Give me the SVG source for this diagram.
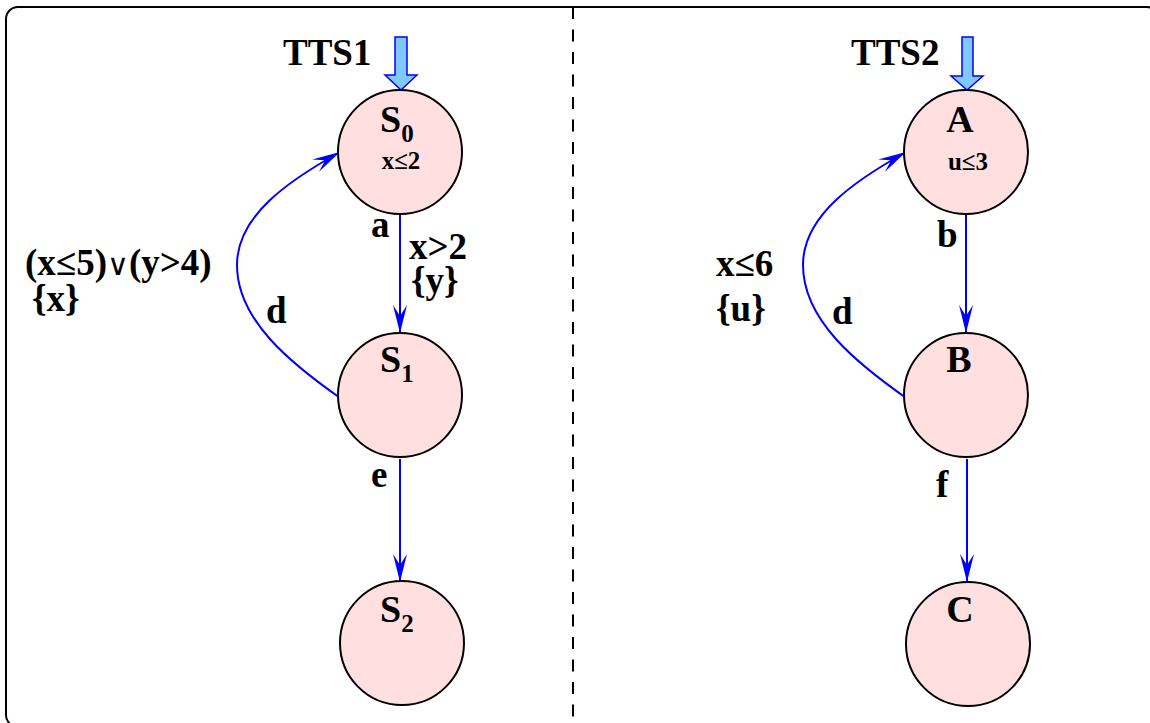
<svg xmlns="http://www.w3.org/2000/svg" width="1150" height="723" viewBox="0 0 1150 723">
  <style>
    .frame { fill: none; stroke: #000; stroke-width: 2; }
    .divider { fill: none; stroke: #000; stroke-width: 2; stroke-dasharray: 12 10.5; }
    .state { fill: #ffdfe0; stroke: #000; stroke-width: 2; }
    .edge { fill: none; stroke: #0000ff; stroke-width: 2; }
    .init { fill: #80c8ff; stroke: #0000ff; stroke-width: 1.5; }
    text { font-family: "Liberation Serif", "Times New Roman", "DejaVu Serif", serif; font-weight: bold; fill: #000; }
    .title { font-size: 37px; }
    .name { font-size: 38px; }
    .sub { font-size: 25px; }
    .inv { font-size: 25px; }
    .lbl { font-size: 37px; }
    .sym { font-family: "DejaVu Sans", sans-serif; font-weight: normal; font-size: 30px; }
  </style>
  <defs>
    <marker id="head" viewBox="-30 -10 32 20" refX="0" refY="0" markerWidth="32" markerHeight="20" markerUnits="userSpaceOnUse" orient="auto">
      <path d="M0,0 L-28,-7 L-17,0 L-28,7 Z" fill="#0000ff"/>
    </marker>
  </defs>

  <!-- outer frame and the dashed split between the two systems -->
  <rect class="frame" x="6" y="7" width="1153" height="720" rx="12"/>
  <line class="divider" x1="573" y1="7" x2="573" y2="723"/>

  <!-- transitions -->
  <g id="connectors">
    <line class="edge" x1="400" y1="209" x2="400" y2="333" marker-end="url(#head)"/>
    <line class="edge" x1="400" y1="459" x2="400" y2="582" marker-end="url(#head)"/>
    <path class="edge" d="M343,400 C290,363 237,320 237,265 C237,215 290,180 340,152" marker-end="url(#head)"/>
    <line class="edge" x1="966" y1="209" x2="966" y2="333" marker-end="url(#head)"/>
    <line class="edge" x1="967" y1="459" x2="967" y2="582" marker-end="url(#head)"/>
    <path class="edge" d="M909,400 C856,363 803,320 803,265 C803,215 856,180 906,152" marker-end="url(#head)"/>
  </g>

  <!-- edge labels -->
  <g id="labels">
    <text class="lbl" x="371" y="237">a</text>
    <text class="lbl" x="409" y="259">x&gt;2</text>
    <text class="lbl" x="411" y="293">{y}</text>
    <text class="lbl" x="25" y="275">(x≤5)<tspan class="sym">∨</tspan>(y&gt;4)</text>
    <text class="lbl" x="32" y="311">{x}</text>
    <text class="lbl" x="266" y="323">d</text>
    <text class="lbl" x="371" y="487">e</text>
    <text class="lbl" x="716" y="276">x≤6</text>
    <text class="lbl" x="716" y="321">{u}</text>
    <text class="lbl" x="832" y="324">d</text>
    <text class="lbl" x="937" y="247">b</text>
    <text class="lbl" x="936" y="497">f</text>
  </g>

  <!-- TTS1 -->
  <g id="tts1">
    <text class="title" x="283" y="65">TTS1</text>
    <polygon class="init" points="395,37 407,37 407,75 417,75 401,90 385,75 395,75"/>
  </g>
  <g id="S0">
    <circle class="state" cx="400" cy="152" r="62"/>
    <text class="name" x="380" y="132">S<tspan class="sub" dy="10">0</tspan></text>
    <text class="inv" x="401" y="169" text-anchor="middle">x≤2</text>
  </g>
  <g id="S1">
    <circle class="state" cx="400" cy="395" r="62"/>
    <text class="name" x="380" y="372">S<tspan class="sub" dy="10">1</tspan></text>
  </g>
  <g id="S2">
    <circle class="state" cx="402" cy="643" r="62"/>
    <text class="name" x="380" y="622">S<tspan class="sub" dy="10">2</tspan></text>
  </g>

  <!-- TTS2 -->
  <g id="tts2">
    <text class="title" x="851" y="65">TTS2</text>
    <polygon class="init" points="962,37 973,37 973,76 983,76 967,90 951,76 962,76"/>
  </g>
  <g id="A">
    <circle class="state" cx="966" cy="152" r="62"/>
    <text class="name" x="960" y="132" text-anchor="middle">A</text>
    <text class="inv" x="968" y="170" text-anchor="middle">u≤3</text>
  </g>
  <g id="B">
    <circle class="state" cx="966" cy="395" r="62"/>
    <text class="name" x="959" y="372" text-anchor="middle">B</text>
  </g>
  <g id="C">
    <circle class="state" cx="968" cy="644" r="62"/>
    <text class="name" x="960" y="622" text-anchor="middle">C</text>
  </g>
</svg>
